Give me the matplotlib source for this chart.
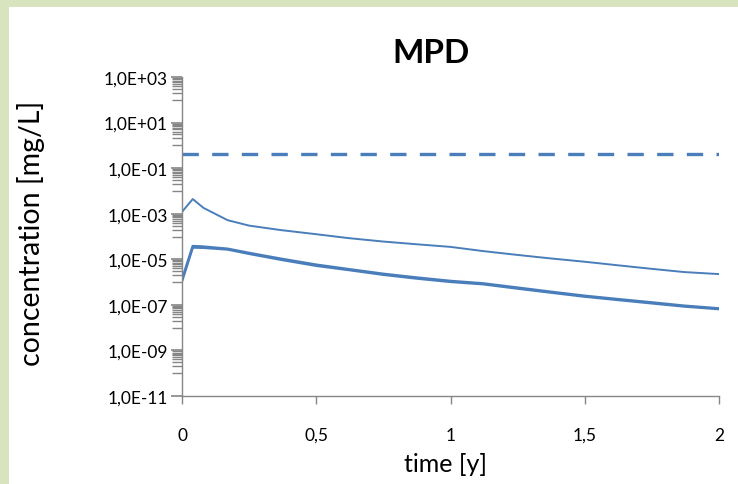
import matplotlib
matplotlib.use("Agg")
import matplotlib.pyplot as plt
from matplotlib.patches import Rectangle
from matplotlib.ticker import FixedLocator, FuncFormatter, NullFormatter
import numpy as np

title = "MPD"
xlabel = "time [y]"
ylabel = "concentration [mg/L]"

time = [0, 0.04, 0.08, 0.17, 0.25, 0.37, 0.5, 0.62, 0.75, 0.87, 1.0,
        1.12, 1.25, 1.37, 1.5, 1.62, 1.75, 1.87, 2.0]
upper = [1.2e-3, 4.4e-3, 1.8e-3, 5.2e-4, 3.0e-4, 1.9e-4, 1.26e-4, 8.5e-5,
         6.0e-5, 4.6e-5, 3.5e-5, 2.3e-5, 1.55e-5, 1.1e-5, 7.8e-6, 5.5e-6,
         3.8e-6, 2.75e-6, 2.24e-6]
lower_a = [1.1e-6, 3.3e-5, 3.2e-5, 2.7e-5, 1.74e-5, 9.5e-6, 5.2e-6, 3.4e-6,
           2.1e-6, 1.45e-6, 1.02e-6, 8.1e-7, 5.2e-7, 3.5e-7, 2.3e-7, 1.66e-7,
           1.17e-7, 8.5e-8, 6.5e-8]
lower_b = [1.3e-6, 3.8e-5, 3.6e-5, 2.9e-5, 1.9e-5, 1.05e-5, 5.8e-6, 3.7e-6,
           2.3e-6, 1.6e-6, 1.12e-6, 8.8e-7, 5.7e-7, 3.8e-7, 2.5e-7, 1.8e-7,
           1.28e-7, 9.2e-8, 7.0e-8]
limit_value = 0.4
limit_time = [0, 2]

xticks = [0, 0.5, 1, 1.5, 2]
xticklabels = ["0", "0,5", "1", "1,5", "2"]
yexp = [3, 1, -1, -3, -5, -7, -9, -11]

blue = "#4A7EBB"
grey = "#868686"

plt.rcParams['font.family'] = ['Lato', 'DejaVu Sans']

W, H = 738, 485
fig = plt.figure(figsize=(W/100, H/100), dpi=100)
fig.patch.set_facecolor("#D7E4BD")
fig.add_artist(Rectangle((9/W, 0), 1, (H-8)/H, transform=fig.transFigure,
                         facecolor="white", edgecolor="none", zorder=-10))

ax = fig.add_axes([182/W, (H-397)/H, (719-182)/W, (397-78)/H])
ax.set_facecolor("white")

ax.plot(limit_time, [limit_value]*2, color=blue, lw=2.4, dashes=(4.9, 4.0))
ax.plot(time, upper, color=blue, lw=1.4)
ax.plot(time, lower_a, color=blue, lw=1.8)
ax.plot(time, lower_b, color=blue, lw=1.8)

ax.set_yscale("log")
ax.set_xlim(0, 2)
ax.set_ylim(1e-11, 1e3)

majors = [10.0**e for e in yexp]
ax.yaxis.set_major_locator(FixedLocator(majors))
minors = [m * 10.0**e for e in range(-12, 3, 2) for m in range(1, 10)]
minors = [v for v in minors if 1e-11 < v < 1e3]
ax.yaxis.set_minor_locator(FixedLocator(minors))
ax.yaxis.set_minor_formatter(NullFormatter())

def fmt(v, pos):
    e = int(round(np.log10(v)))
    sign = "+" if e >= 0 else "-"
    return f"1,0E{sign}{abs(e):02d}"
ax.yaxis.set_major_formatter(FuncFormatter(fmt))

ax.set_xticks(xticks)
ax.set_xticklabels(xticklabels)

for s in ["top", "right"]:
    ax.spines[s].set_visible(False)
for s in ["left", "bottom"]:
    ax.spines[s].set_color(grey)
    ax.spines[s].set_linewidth(1.0)

ax.tick_params(axis="y", which="major", direction="out", length=8, width=1.2,
               color=grey, labelsize=12.5, pad=2)
ax.tick_params(axis="y", which="minor", direction="out", length=7, width=1.0,
               color=grey)
ax.tick_params(axis="x", which="major", direction="out", length=6, width=1.0,
               color=grey, labelsize=12.5, pad=16)

fig.text(31/W, 1 - 233/H, ylabel, rotation=90, ha="center", va="center",
         fontsize=20.5)
fig.text(446/W, 1 - 465/H, xlabel, ha="center", va="center", fontsize=18)
fig.text(431/W, 1 - 63/H, title, ha="center", va="baseline",
         fontsize=24, fontweight="bold")

fig.savefig("out.png", dpi=100, facecolor=fig.get_facecolor())
